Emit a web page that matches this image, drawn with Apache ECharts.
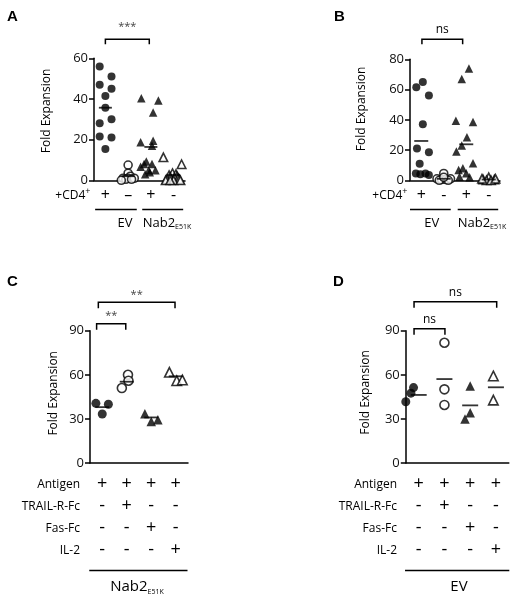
<!DOCTYPE html>
<html><head><meta charset="utf-8">
<script src="https://cdn.jsdelivr.net/npm/echarts@6/dist/echarts.min.js"></script>
<style>html,body{margin:0;padding:0;background:#fff}#c{width:520px;height:601px}</style>
</head><body><div id="c"></div>
<script>
// ================= DATA =================
// Panel A (Fold Expansion, +CD4+ / EV / Nab2 E51K)
const aCategories  = ['+', '–', '+', '-'];
const aEvPlus      = [56, 51, 47, 45, 41.5, 35.7, 30, 28, 21.5, 21, 15.4];
const aEvPlusJit   = [-0.25, 0.27, -0.25, 0.27, 0, 0, 0.27, -0.25, -0.25, 0.27, 0];
const aEvMinus     = [7.5, 3.5, 2, 1, 1, 1, 0.5, 0.5, 0];
const aEvMinusJit  = [0, 0, 0.1, -0.22, 0, 0.27, -0.1, 0.15, -0.3];
const aNabPlus     = [40.3, 39.2, 33.4, 19.5, 18.7, 17, 9.2, 8, 8, 6.7, 5, 5, 4, 3];
const aNabPlusJit  = [-0.42, 0.33, 0.1, 0.1, -0.45, 0.05, -0.2, 0.05, -0.3, -0.45, -0.1, 0.2, -0.05, -0.25];
const aNabMinus    = [11.3, 7.9, 3.5, 3, 2.5, 2, 1.5, 1, 1, 0.5, 0.5, 0, 0, 0, 0];
const aNabMinusJit = [-0.45, 0.35, -0.05, 0.1, -0.2, 0.15, -0.15, 0.05, 0.2, -0.3, 0.25, 0, -0.35, 0.3, -0.15];
const aMeans       = [35.7, 2, 16.4, 2.6];
const aYTicks      = {min: 0, max: 60, interval: 20};

// Panel B
const bCategories  = ['+', '-', '+', '-'];
const bEvPlus      = [61.5, 65, 56, 37, 21, 18.5, 11, 4.5, 4, 4.5, 3.5];
const bEvPlusJit   = [-0.22, 0.07, 0.34, 0.07, -0.19, 0.34, -0.07, -0.24, -0.04, 0.19, 0.34];
const bEvMinus     = [4.5, 1, 0.5, 0.5, 1, 0, 0, 2];
const bEvMinusJit  = [0, -0.3, -0.1, 0.1, 0.3, 0.2, -0.2, 0];
const bNabPlus     = [74, 67, 39.4, 38.5, 28.4, 23, 19, 11.2, 8, 6.8, 4.6, 2.4, 2];
const bNabPlusJit  = [0.12, -0.2, -0.46, 0.3, 0.03, -0.2, -0.44, 0.3, -0.15, -0.34, 0, -0.3, 0.15];
const bNabMinus    = [2, 0.5, 0.5, 0, 0, 1, 1];
const bNabMinusJit = [0, -0.25, 0.25, -0.1, 0.1, 0.3, -0.3];
const bMeans       = [26, 1, 23.8, 0.5];
const bYTicks      = {min: 0, max: 80, interval: 20};

// Panels C and D: treatment rows
const rowNames   = ['Antigen', 'TRAIL-R-Fc', 'Fas-Fc', 'IL-2'];
const rowAntigen = ['+', '+', '+', '+'];
const rowTrail   = ['-', '+', '-', '-'];
const rowFas     = ['-', '-', '+', '-'];
const rowIl2     = ['-', '-', '-', '+'];

// Panel C (Nab2 E51K)
const cCtrl      = [40.6, 40, 33.3];
const cCtrlJit   = [-0.26, 0.25, 0];
const cTrail     = [60, 56, 51];
const cTrailJit  = [0.05, 0.07, -0.2];
const cFas       = [33.5, 28.2, 29.4];
const cFasJit    = [-0.26, 0, 0.27];
const cIl2       = [61.7, 56, 56.5];
const cIl2Jit    = [-0.26, 0.04, 0.27];
const cMeans     = [38, 55.3, 31, 59];
// Panel D (EV)
const dCtrl      = [41.7, 47.5, 51.3];
const dCtrlJit   = [-0.5, -0.3, -0.2];
const dTrail     = [81.8, 50.1, 39.5];
const dTrailJit  = [0, 0, 0];
const dFas       = [52.4, 34.2, 29.9];
const dFasJit    = [0, 0, -0.2];
const dIl2       = [59.2, 42.8];
const dIl2Jit    = [-0.1, -0.1];
const dMeans     = [46.3, 57.1, 39.2, 51.5];
const cdYTicks   = {min: 0, max: 90, interval: 30};

// ================= CHART =================
const FONT = '"Open Sans", "Liberation Sans", sans-serif';
const BOLD = '"Liberation Sans", Arial, sans-serif';
const chart = echarts.init(document.getElementById('c'), null, {renderer: 'canvas'});

const panels = [
  {grid: {left: 94, top: 58.3, width: 91, height: 122}, y: aYTicks, cats: aCategories, multi: false,
   groups: [[aEvPlus, aEvPlusJit, 'circle', true], [aEvMinus, aEvMinusJit, 'circle', false],
            [aNabPlus, aNabPlusJit, 'triangle', true], [aNabMinus, aNabMinusJit, 'triangle', false]],
   means: aMeans, cs: 8, ts: 8.5, mw: 13},
  {grid: {left: 410, top: 59.3, width: 90, height: 121}, y: bYTicks, cats: bCategories, multi: false,
   groups: [[bEvPlus, bEvPlusJit, 'circle', true], [bEvMinus, bEvMinusJit, 'circle', false],
            [bNabPlus, bNabPlusJit, 'triangle', true], [bNabMinus, bNabMinusJit, 'triangle', false]],
   means: bMeans, cs: 8, ts: 8.5, mw: 14},
  {grid: {left: 90, top: 330.7, width: 98, height: 132.3}, y: cdYTicks, cats: null, multi: true,
   groups: [[cCtrl, cCtrlJit, 'circle', true], [cTrail, cTrailJit, 'circle', false],
            [cFas, cFasJit, 'triangle', true], [cIl2, cIl2Jit, 'triangle', false]],
   means: cMeans, cs: 9, ts: 9.5, mw: 14},
  {grid: {left: 405.8, top: 330.7, width: 103, height: 132.3}, y: cdYTicks, cats: null, multi: true,
   groups: [[dCtrl, dCtrlJit, 'circle', true], [dTrail, dTrailJit, 'circle', false],
            [dFas, dFasJit, 'triangle', true], [dIl2, dIl2Jit, 'triangle', false]],
   means: dMeans, cs: 9, ts: 9.5, mw: 16}
];

const multiCats = rowAntigen.map((v, i) => [rowAntigen[i], rowTrail[i], rowFas[i], rowIl2[i]].join('\n'));

const grids = [], xAxes = [], yAxes = [], series = [];
panels.forEach((p, k) => {
  grids.push(p.grid);
  xAxes.push({
    type: 'category', gridIndex: k, data: p.multi ? multiCats : p.cats,
    axisLine: {lineStyle: {color: '#000', width: 1.5}},
    axisTick: {alignWithLabel: true, length: 4, lineStyle: {color: '#000', width: 1.5}},
    axisLabel: p.multi
      ? {color: '#000', fontFamily: FONT, fontSize: 18, lineHeight: 22, margin: 10}
      : {color: '#000', fontFamily: FONT, fontSize: 16, margin: 7},
    splitLine: {show: false}
  });
  xAxes.push({type: 'value', gridIndex: k, min: 0.5, max: 4.5, show: false});
  yAxes.push({
    type: 'value', gridIndex: k, min: p.y.min, max: p.y.max, interval: p.y.interval,
    axisLine: {show: true, lineStyle: {color: '#000', width: 1.5}},
    axisTick: {show: true, length: 5, lineStyle: {color: '#000', width: 1.5}},
    axisLabel: {color: '#111', fontFamily: FONT, fontSize: 13, margin: 6},
    splitLine: {show: false}
  });
  p.groups.forEach((g, gi) => {
    const [vals, jit, shape, filled] = g;
    series.push({
      type: 'scatter', xAxisIndex: 2 * k + 1, yAxisIndex: k,
      symbol: shape, symbolSize: shape === 'circle' ? p.cs : p.ts,
      itemStyle: filled ? {color: '#000'} : {color: '#fff', borderColor: '#000', borderWidth: 1.6},
      data: vals.map((v, i) => [gi + 1 + jit[i], v]),
      silent: true, animation: false
    });
  });
  series.push({
    type: 'scatter', xAxisIndex: 2 * k + 1, yAxisIndex: k,
    symbol: 'rect', symbolSize: [p.mw, 1.8], itemStyle: {color: '#000'}, z: 5,
    data: p.means.map((m, i) => [i + 1, m]), silent: true, animation: false
  });
});

chart.setOption({
  animation: false, grid: grids, xAxis: xAxes, yAxis: yAxes, series: series
});

// ================= ANNOTATIONS =================
const px = (k, v) => chart.convertToPixel({xAxisIndex: 2 * k + 1}, v);
const txt = (x, y, text, o) => Object.assign({type: 'text', x, y, silent: true,
  style: Object.assign({text, fill: '#000', font: '12px ' + FONT, align: 'center', verticalAlign: 'middle'}, o || {})});
const line = (x1, y1, x2, y2) => ({type: 'line', silent: true,
  shape: {x1, y1, x2, y2}, style: {stroke: '#000', lineWidth: 1.5}});
const bracket = (x1, x2, y, h) => ({type: 'polyline', silent: true,
  shape: {points: [[x1, y + h], [x1, y], [x2, y], [x2, y + h]]}, style: {stroke: '#000', lineWidth: 1.5, fill: null}});
const ylabel = (x, y) => ({type: 'text', x, y, rotation: Math.PI / 2, silent: true,
  style: {text: 'Fold Expansion', fill: '#000', font: '12px ' + FONT, align: 'center', verticalAlign: 'middle'}});
const nabLabel = (x, y, size) => ({type: 'text', x, y, silent: true,
  style: {text: '{m|Nab2}{s|E51K}', align: 'center', verticalAlign: 'middle',
    rich: {m: {fontSize: size, fontFamily: FONT, fill: '#000'},
           s: {fontSize: 7, fontFamily: FONT, fill: '#000', padding: [size * 0.6, 0, 0, 0]}}}});
const cd4Label = (xRight, y) => ({type: 'text', x: xRight, y, silent: true,
  style: {text: '{m|+CD4}{s|+}', align: 'right', verticalAlign: 'middle',
    rich: {m: {fontSize: 12, fontFamily: FONT, fill: '#000'},
           s: {fontSize: 9, fontFamily: FONT, fill: '#000', padding: [0, 0, 9, 0]}}}});

const g = [];
// panel letters
[['A', 7, 17], ['B', 334, 17], ['C', 7, 282], ['D', 333, 282]].forEach(([t, x, y]) =>
  g.push(txt(x, y, t, {font: 'bold 15px ' + BOLD, align: 'left'})));
// y labels
g.push(ylabel(46.7, 111), ylabel(361.7, 109), ylabel(53.3, 393.3), ylabel(366, 392.5));
// panel A
g.push(bracket(px(0, 1.0), px(0, 2.93), 39.3, 5), txt((px(0, 1.0) + px(0, 2.93)) / 2, 27, '***', {font: '11px ' + FONT, fill: '#444'}));
g.push(cd4Label(90.5, 196));
g.push(line(px(0, 0.55), 209.5, px(0, 2.38), 209.5), line(px(0, 2.62), 209.5, px(0, 4.42), 209.5));
g.push(txt(125, 223, 'EV', {font: '13px ' + FONT}), nabLabel(167, 223, 13));
// panel B
g.push(bracket(px(1, 1.03), px(1, 2.84), 39.3, 5), txt((px(1, 1.03) + px(1, 2.84)) / 2, 30, 'ns', {font: '12px ' + FONT}));
g.push(cd4Label(407.5, 196));
g.push(line(px(1, 0.5), 209.5, px(1, 2.31), 209.5), line(px(1, 2.62), 209.5, px(1, 4.42), 209.5));
g.push(txt(431.7, 223, 'EV', {font: '13px ' + FONT}), nabLabel(482, 223, 13));
// panel C
g.push(bracket(px(2, 0.84), px(2, 3.97), 302.3, 6), txt((px(2, 0.84) + px(2, 3.97)) / 2, 294.5, '**', {font: '11px ' + FONT, fill: '#444'}));
g.push(bracket(px(2, 0.77), px(2, 1.96), 323.7, 6), txt((px(2, 0.77) + px(2, 1.96)) / 2, 316, '**', {font: '11px ' + FONT, fill: '#444'}));
rowNames.forEach((n, i) => g.push(txt(80, 484.3 + i * 22.1, n, {align: 'right', font: '12px ' + FONT})));
g.push(line(px(2, 0.47), 570.5, px(2, 4.48), 570.5));
g.push(nabLabel(137, 587, 15));
// panel D
g.push(bracket(px(3, 0.82), px(3, 4.03), 301.7, 6), txt((px(3, 0.82) + px(3, 4.03)) / 2, 293, 'ns', {font: '12px ' + FONT}));
g.push(bracket(px(3, 0.82), px(3, 2.02), 328.7, 6), txt((px(3, 0.82) + px(3, 2.02)) / 2, 320, 'ns', {font: '12px ' + FONT}));
rowNames.forEach((n, i) => g.push(txt(397, 484.3 + i * 22.1, n, {align: 'right', font: '12px ' + FONT})));
g.push(line(px(3, 0.47), 570.5, px(3, 4.52), 570.5));
g.push(txt(459, 587, 'EV', {font: '15px ' + FONT}));

chart.setOption({graphic: g});
</script></body></html>
